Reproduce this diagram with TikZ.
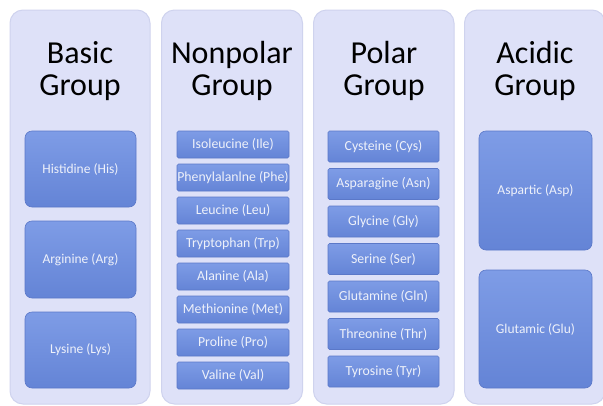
\documentclass[tikz,border=0pt]{standalone}
\usepackage{fontspec}
\setmainfont{Carlito}
\definecolor{panelfill}{HTML}{DEE1F8}
\definecolor{paneledge}{HTML}{CFD3EE}
\definecolor{boxtop}{HTML}{7E9CE6}
\definecolor{boxbot}{HTML}{6484D6}
\definecolor{boxedge}{HTML}{5B78C8}
\definecolor{boxtext}{HTML}{EEF1FA}
\tikzset{
  panel/.style={draw=paneledge, line width=1pt, fill=panelfill, rounded corners=13pt},
  titletext/.style={font=\fontsize{32}{33}\selectfont, align=center, text=black, inner sep=0pt},
  bigbox/.style={draw=boxedge, line width=0.6pt, rounded corners=7pt, top color=boxtop, bottom color=boxbot,
     text=boxtext, font=\fontsize{13.5}{15}\selectfont, inner sep=0pt},
  smallbox/.style={draw=boxedge, line width=0.6pt, rounded corners=1.5pt, top color=boxtop, bottom color=boxbot,
     text=boxtext, font=\fontsize{13.8}{15}\selectfont, inner sep=0pt},
}
\begin{document}
\begin{tikzpicture}[x=1pt,y=-1pt]
\useasboundingbox (0,0) rectangle (603,405);
\clip (0,0) rectangle (603,405);
\fill[white] (0,0) rectangle (603,405);
% panels
\draw[panel] (10,10) rectangle (150,404);
\draw[panel] (161.5,10) rectangle (302.5,404);
\draw[panel] (313.5,10) rectangle (454,404);
\draw[panel] (464.5,10) rectangle (605,404);
% titles
\node[titletext, anchor=base] (t1a) at (80,63) {Basic};
\node[titletext, anchor=base] (t1b) at (80,95) {Group};
\node[titletext, anchor=base] (t2a) at (232,63) {Nonpolar};
\node[titletext, anchor=base] (t2b) at (232,95) {Group};
\node[titletext, anchor=base] (t3a) at (384,63) {Polar};
\node[titletext, anchor=base] (t3b) at (384,95) {Group};
\node[titletext, anchor=base] (t4a) at (535,63) {Acidic};
\node[titletext, anchor=base] (t4b) at (535,95) {Group};
% basic
\draw[bigbox] (25,131) rectangle (136,207) node[midway] (his) {Histidine (His)};
\draw[bigbox] (25,221) rectangle (136,298) node[midway] (arg) {Arginine (Arg)};
\draw[bigbox] (25,312) rectangle (136,388) node[midway] (lys) {Lysine (Lys)};
% nonpolar
\foreach \t [count=\i from 0] in {Isoleucine (Ile),Phenylalanlne (Phe),Leucine (Leu),Tryptophan (Trp),Alanine (Ala),Methionine (Met),Proline (Pro),Valine (Val)}{
  \draw[smallbox] (177,{131+33*\i}) rectangle (289,{158+33*\i}) node[midway] (np\i) {\t};
}
% polar
\foreach \t [count=\i from 0] in {Cysteine (Cys),Asparagine (Asn),Glycine (Gly),Serine (Ser),Glutamine (Gln),Threonine (Thr),Tyrosine (Tyr)}{
  \draw[smallbox] (328,{131+37.5*\i}) rectangle (439,{162+37.5*\i}) node[midway] (po\i) {\t};
}
% acidic
\draw[bigbox] (479,131) rectangle (592,250) node[midway] (asp) {Aspartic (Asp)};
\draw[bigbox] (479,270) rectangle (592,388) node[midway] (glu) {Glutamic (Glu)};
\end{tikzpicture}
\end{document}
